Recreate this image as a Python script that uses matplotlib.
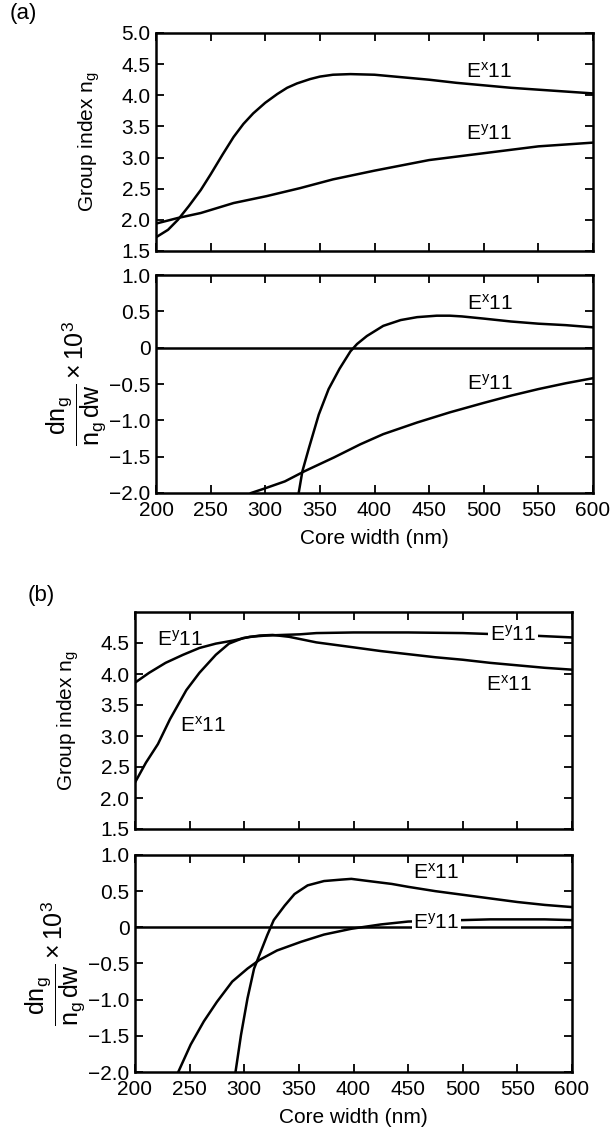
import matplotlib
matplotlib.use("Agg")
import matplotlib.pyplot as plt

plt.rcParams['font.family'] = ['Liberation Sans', 'DejaVu Sans']
plt.rcParams['mathtext.fontset'] = 'custom'
plt.rcParams['mathtext.rm'] = 'Liberation Sans'
plt.rcParams['mathtext.it'] = 'Liberation Sans'
plt.rcParams['mathtext.default'] = 'regular'

# ---- data (a) ----
a_ng_ex_x = [200, 211, 220, 230, 241, 250, 261, 271, 280, 289, 300, 311, 320, 329, 341, 350, 362, 378, 400, 425, 450, 475, 500, 525, 550, 575, 600]
a_ng_ex_y = [1.72, 1.84, 2.00, 2.22, 2.48, 2.73, 3.05, 3.33, 3.54, 3.71, 3.88, 4.02, 4.12, 4.19, 4.26, 4.30, 4.33, 4.34, 4.33, 4.29, 4.25, 4.20, 4.16, 4.12, 4.09, 4.06, 4.03]
a_ng_ey_x = [200, 220, 241, 271, 301, 332, 362, 400, 450, 500, 550, 600]
a_ng_ey_y = [1.94, 2.03, 2.11, 2.27, 2.38, 2.51, 2.65, 2.79, 2.96, 3.07, 3.18, 3.24]

a_d_ex_x = [330.6, 334, 340, 349, 358, 368, 378, 384, 393, 408, 424, 439, 457, 469, 480, 500, 525, 550, 575, 600]
a_d_ex_y = [-2.0, -1.70, -1.38, -0.92, -0.57, -0.29, -0.05, 0.05, 0.16, 0.30, 0.38, 0.42, 0.44, 0.44, 0.43, 0.40, 0.36, 0.33, 0.31, 0.28]
a_d_ey_x = [287, 299, 318, 336, 363, 387, 408, 439, 469, 500, 525, 550, 575, 600]
a_d_ey_y = [-2.0, -1.94, -1.84, -1.70, -1.51, -1.33, -1.19, -1.03, -0.89, -0.76, -0.66, -0.57, -0.49, -0.42]

# ---- data (b) ----
b_ng_ex_x = [200, 210, 221, 232, 247, 259, 274, 286, 299, 314, 326, 341, 366, 400, 425, 450, 475, 500, 525, 550, 575, 600]
b_ng_ex_y = [2.25, 2.57, 2.87, 3.27, 3.74, 4.02, 4.31, 4.49, 4.58, 4.62, 4.63, 4.60, 4.51, 4.43, 4.37, 4.32, 4.27, 4.23, 4.18, 4.14, 4.10, 4.07]
b_ng_ey_x = [200, 213, 228, 244, 259, 274, 290, 305, 320, 335, 351, 366, 400, 450, 500, 550, 600]
b_ng_ey_y = [3.86, 4.02, 4.18, 4.31, 4.42, 4.49, 4.54, 4.60, 4.62, 4.63, 4.64, 4.66, 4.67, 4.67, 4.66, 4.63, 4.59]

b_d_ex_x = [292, 297, 303, 309, 315, 321, 327, 337, 346, 358, 373, 389, 398, 419, 435, 450, 475, 500, 525, 550, 575, 600]
b_d_ex_y = [-2.0, -1.49, -0.98, -0.57, -0.34, -0.11, 0.10, 0.30, 0.46, 0.58, 0.64, 0.66, 0.67, 0.63, 0.60, 0.56, 0.50, 0.45, 0.40, 0.35, 0.31, 0.28]
b_d_ey_x = [239.6, 251, 263, 275, 289, 303, 314, 330, 352, 373, 398, 425, 450, 475, 500, 525, 550, 575, 600]
b_d_ey_y = [-2.0, -1.62, -1.30, -1.03, -0.75, -0.57, -0.45, -0.32, -0.20, -0.10, -0.02, 0.04, 0.08, 0.09, 0.10, 0.11, 0.11, 0.11, 0.10]

zero_x = [200, 600]
zero_y = [0, 0]

xticks = [200, 250, 300, 350, 400, 450, 500, 550, 600]
ng_ticks_a = [1.5, 2.0, 2.5, 3.0, 3.5, 4.0, 4.5, 5.0]
ng_ticks_b = [1.5, 2.0, 2.5, 3.0, 3.5, 4.0, 4.5]
d_ticks = [-2.0, -1.5, -1.0, -0.5, 0.0, 0.5, 1.0]
d_ticklabels = ['\u22122.0', '\u22121.5', '\u22121.0', '\u22120.5', '0', '0.5', '1.0']

FS = 15
LW = 1.8
W, H = 610, 1135
fig = plt.figure(figsize=(W / 100, H / 100), dpi=100)

def axes_px(x0, x1, y0, y1):
    return fig.add_axes([x0 / W, 1 - y1 / H, (x1 - x0) / W, (y1 - y0) / H])

def style(ax, xlabels):
    ax.set_xlim(200, 600)
    ax.set_xticks(xticks)
    ax.tick_params(direction='in', length=6, width=1.3, top=True, right=True,
                   labelsize=FS, pad=4)
    ax.tick_params(axis='x', pad=6)
    if not xlabels:
        ax.set_xticklabels([])
    for s in ax.spines.values():
        s.set_linewidth(1.8)

EX = r'$\mathregular{E^{x}11}$'
EY = r'$\mathregular{E^{y}11}$'
DLAB = r'$\mathregular{\dfrac{dn_g}{n_g\,dw}\times 10^3}$'

# (a) top
ax1 = axes_px(156, 593, 33, 251)
ax1.plot(a_ng_ex_x, a_ng_ex_y, color='k', lw=LW)
ax1.plot(a_ng_ey_x, a_ng_ey_y, color='k', lw=LW)
style(ax1, False)
ax1.set_ylim(1.5, 5.0)
ax1.set_yticks(ng_ticks_a)
ax1.set_yticklabels([f'{v:.1f}' for v in ng_ticks_a])
ax1.set_ylabel(r'Group index n$_\mathregular{g}$', fontsize=FS, labelpad=14)
ax1.text(505, 4.38, EX, fontsize=FS, ha='center', va='center')
ax1.text(505, 3.39, EY, fontsize=FS, ha='center', va='center')

# (a) bottom
ax2 = axes_px(156, 593, 275, 493)
ax2.plot(zero_x, zero_y, color='k', lw=LW)
ax2.plot(a_d_ex_x, a_d_ex_y, color='k', lw=LW)
ax2.plot(a_d_ey_x, a_d_ey_y, color='k', lw=LW)
style(ax2, True)
ax2.set_ylim(-2.0, 1.0)
ax2.set_yticks(d_ticks)
ax2.set_yticklabels(d_ticklabels)
ax2.set_ylabel(DLAB, fontsize=FS + 3, labelpad=0)
ax2.set_xlabel('Core width (nm)', fontsize=FS, labelpad=6)
ax2.text(506, 0.61, EX, fontsize=FS, ha='center', va='center')
ax2.text(506, -0.49, EY, fontsize=FS, ha='center', va='center')

# (b) top
ax3 = axes_px(135, 572, 612, 829)
ax3.plot(b_ng_ex_x, b_ng_ex_y, color='k', lw=LW)
ax3.plot(b_ng_ey_x, b_ng_ey_y, color='k', lw=LW)
style(ax3, False)
ax3.set_ylim(1.5, 5.0)
ax3.set_yticks(ng_ticks_b)
ax3.set_yticklabels([f'{v:.1f}' for v in ng_ticks_b])
ax3.set_ylabel(r'Group index n$_\mathregular{g}$', fontsize=FS, labelpad=14)
ax3.text(241, 4.55, EY, fontsize=FS, ha='center', va='center')
ax3.text(546, 4.64, EY, fontsize=FS, ha='center', va='center',
         bbox=dict(facecolor='white', edgecolor='none', pad=1))
ax3.text(542, 3.82, EX, fontsize=FS, ha='center', va='center')
ax3.text(262, 3.17, EX, fontsize=FS, ha='center', va='center')

# (b) bottom
ax4 = axes_px(135, 572, 855, 1072)
ax4.plot(zero_x, zero_y, color='k', lw=LW)
ax4.plot(b_d_ex_x, b_d_ex_y, color='k', lw=LW)
ax4.plot(b_d_ey_x, b_d_ey_y, color='k', lw=LW)
style(ax4, True)
ax4.set_ylim(-2.0, 1.0)
ax4.set_yticks(d_ticks)
ax4.set_yticklabels(d_ticklabels)
ax4.set_ylabel(DLAB, fontsize=FS + 3, labelpad=0)
ax4.set_xlabel('Core width (nm)', fontsize=FS, labelpad=6)
ax4.text(476, 0.76, EX, fontsize=FS, ha='center', va='center')
ax4.text(476, 0.06, EY, fontsize=FS, ha='center', va='center',
         bbox=dict(facecolor='white', edgecolor='none', pad=1))

fig.text(23 / W, 1 - 13 / H, '(a)', fontsize=16, ha='center', va='center')
fig.text(41 / W, 1 - 595 / H, '(b)', fontsize=16, ha='center', va='center')

fig.savefig('out.png', dpi=100)
